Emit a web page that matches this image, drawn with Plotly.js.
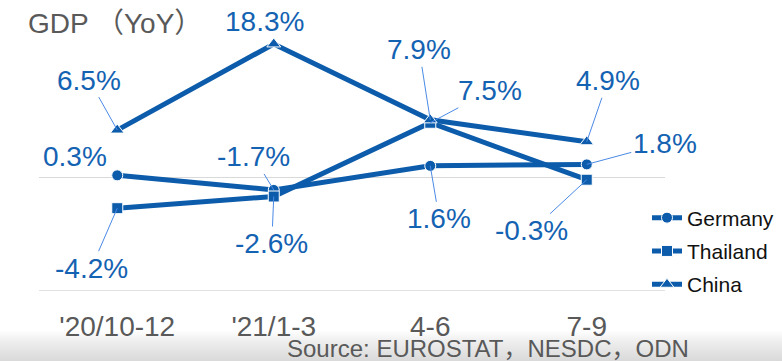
<!DOCTYPE html>
<html>
<head>
<meta charset="utf-8">
<script src="https://cdn.plot.ly/plotly-3.0.1.min.js"></script>
<style>
  html, body { margin: 0; padding: 0; }
  body { width: 782px; height: 361px; overflow: hidden;
         background: linear-gradient(to bottom, #ffffff 0px, #ffffff 330px, #f0f0f0 340px, #d9d9d9 361px); }
  #chart { width: 782px; height: 361px; }
</style>
</head>
<body>
<div id="chart"></div>
<script>
// ---- data ----
const categories = ["'20/10-12", "'21/1-3", "4-6", "7-9"];
const seriesNames = ["Germany", "Thailand", "China"];
const germany  = [0.3, -1.7, 1.6, 1.8];
const thailand = [-4.2, -2.6, 7.5, -0.3];
const china    = [6.5, 18.3, 7.9, 4.9];
const titleText = "GDP （YoY）";
const sourceText = "Source: EUROSTAT，NESDC，ODN";

// ---- styling ----
const lineColor = "#0c5cab";
const textColor = "#1462b2";
const leaderColor = "#4a8ae6";
const symbols = ["circle", "square", "triangle-up"];
const allSeries = [germany, thailand, china];

// label offsets in pixels (text centre relative to point); sx/sy => plain shifted label
const labelOffsets = [
  [ {sx:-42, sy:19}, {ax:-20, ay:-33}, {ax:9, ay:53}, {ax:78, ay:-21} ],
  [ {ax:-26, ay:60}, {ax:-2, ay:47}, {ax:60, ay:-32}, {ax:-55, ay:51} ],
  [ {ax:-28, ay:-50}, {sx:-9, sy:22}, {ax:-11, ay:-70}, {ax:21, ay:-61} ]
];

const traces = allSeries.map((vals, i) => ({
  type: "scatter",
  mode: "lines+markers",
  name: seriesNames[i],
  legendgroup: seriesNames[i],
  x: categories,
  y: vals,
  line: { color: lineColor, width: 5 },
  marker: { symbol: symbols[i], size: i === 2 ? 12 : 11, color: lineColor,
            line: { color: "#ffffff", width: 1 } },
  hoverinfo: "skip"
}));

const labelFont = { family: "Liberation Sans, Arial, sans-serif", size: 28, color: textColor };
const annotations = [];
allSeries.forEach((vals, i) => {
  vals.forEach((v, j) => {
    const o = labelOffsets[i][j];
    const base = { x: categories[j], y: v, xref: "x", yref: "y",
                   text: v.toFixed(1) + "%", font: labelFont };
    if (o.ax !== undefined) {
      annotations.push(Object.assign(base, {
        showarrow: true, arrowhead: 0, arrowwidth: 1, arrowcolor: leaderColor,
        ax: o.ax, ay: o.ay, standoff: 0, startstandoff: 0
      }));
    } else {
      annotations.push(Object.assign(base, { showarrow: false, xshift: o.sx, yshift: o.sy }));
    }
  });
});
annotations.push({
  text: sourceText, xref: "paper", yref: "paper", x: 0.718, y: -0.218,
  xanchor: "center", yanchor: "middle", showarrow: false,
  font: { family: "Liberation Sans, Arial, Noto Sans CJK JP, sans-serif", size: 24, color: "#595959" }
});

const layout = {
  width: 782, height: 361,
  margin: { l: 39, r: 117, t: 20, b: 71, autoexpand: false },
  paper_bgcolor: "rgba(0,0,0,0)",
  plot_bgcolor: "rgba(0,0,0,0)",
  title: {
    text: titleText, xref: "container", yref: "container",
    x: 28 / 782, xanchor: "left", y: 1 - 23 / 361, yanchor: "middle",
    font: { family: "Liberation Sans, Noto Sans CJK JP, sans-serif", size: 28, color: "#595959" }
  },
  xaxis: {
    type: "category", range: [-0.5, 3.5],
    showgrid: false, zeroline: false,
    showline: true, linecolor: "#e2e2e2", linewidth: 1,
    ticks: "outside", ticklen: 11, tickcolor: "rgba(0,0,0,0)",
    tickfont: { family: "Liberation Sans, Arial, sans-serif", size: 28, color: "#595959" },
    fixedrange: true
  },
  yaxis: {
    range: [-15.41, 21.58],
    tickvals: [0], showticklabels: false,
    showgrid: true, gridcolor: "#d9d9d9", gridwidth: 1,
    zeroline: false, showline: false, fixedrange: true
  },
  showlegend: true,
  legend: {
    xref: "container", yref: "container",
    x: 647 / 782, xanchor: "left",
    y: 1 - 251 / 361, yanchor: "middle",
    traceorder: "grouped", tracegroupgap: 3,
    bgcolor: "rgba(0,0,0,0)",
    font: { family: "Liberation Sans, Arial, sans-serif", size: 21, color: "#111111" }
  },
  annotations: annotations
};

Plotly.newPlot("chart", traces, layout, { displayModeBar: false, staticPlot: true });
</script>
</body>
</html>
